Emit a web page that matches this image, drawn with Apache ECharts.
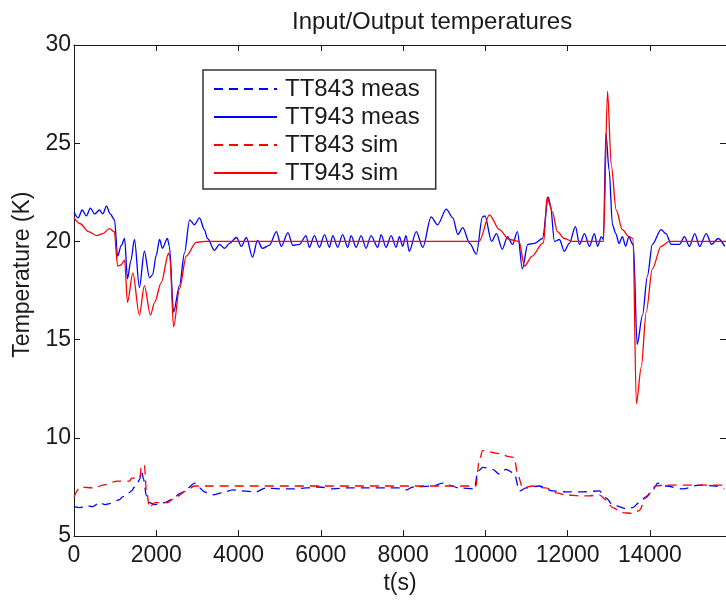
<!DOCTYPE html>
<html><head><meta charset="utf-8">
<script src="https://cdn.jsdelivr.net/npm/echarts@6/dist/echarts.min.js"></script>
<style>html,body{margin:0;padding:0;background:#fff}#c{width:726px;height:600px}</style>
</head><body><div id="c"></div><script>
// TT943 measured (solid blue)
const t943meas = [0,100,200,300,400,500,620,700,790,880,985,1060,1150,1230,1300,1380,1470,1590,1710,1835,1910,2000,2080,2150,2270,2320,2420,2565,2685,2810,2930,3050,3170,3245,3415,3535,3660,3780,3950,4070,4190,4340,4460,4580,4750,4920,5040,5200,5320,5480,5640,5720,5845,5965,6090,6210,6290,6410,6530,6655,6735,6860,6980,7100,7220,7385,7465,7585,7710,7830,7910,7990,8070,8150,8320,8480,8680,8840,9050,9210,9330,9450,9620,9780,9930,9990,10150,10270,10410,10540,10660,10780,10900,11030,11190,11390,11530,11580,11680,11800,11920,12040,12190,12290,12410,12530,12650,12730,12820,12870,12930,13010,13090,13170,13250,13330,13410,13490,13570,13600,13690,13820,13940,14060,14270,14390,14520,14720,14840,14960,15090,15210,15370,15500,15660,15820];
const v943meas = [21.5,21.2,21.6,21.3,21.7,21.4,21.6,21.4,21.8,21.4,21.1,19.25,19.8,20.15,18.1,19.0,20.1,17.65,19.5,18.15,18.3,19.3,20.1,19.65,20.15,19.75,16.4,17.75,19.4,21.1,20.85,21.2,20.6,20.15,19.55,19.85,19.65,19.9,20.2,19.75,20.2,19.2,20.05,19.65,19.8,20.5,19.75,20.45,19.8,19.85,20.3,19.7,20.3,19.7,20.35,19.7,20.3,19.7,20.35,19.7,20.3,19.7,20.3,19.65,20.3,19.7,20.35,19.7,20.3,19.7,20.25,19.75,20.3,19.5,20.5,19.7,21.25,20.85,21.65,21.2,20.35,20.7,19.9,19.35,21.25,21.3,20.0,20.4,19.6,20.25,19.85,20.5,18.6,19.85,19.9,20.15,22.25,21.9,20.0,20.1,19.5,19.9,20.75,19.85,20.4,19.75,20.4,19.75,20.25,20.1,25.5,23.6,20.85,20.4,19.9,20.25,19.75,20.25,19.9,19.8,14.75,16.25,18.25,19.85,20.6,20.4,19.85,19.85,20.25,19.75,20.4,19.75,20.4,19.85,20.15,19.75];

// TT943 simulated (solid red)
const t943sim = [0,150,350,550,700,860,980,1060,1140,1230,1300,1430,1590,1710,1860,1960,2120,2300,2330,2420,2565,2730,2970,3200,9850,10100,10340,10580,10820,10950,11140,11390,11420,11500,11630,11750,11920,12120,12870,12970,13060,13180,13330,13490,13590,13670,13790,13910,14060,14270,14470,15850];
const v943sim = [21.2,20.9,20.5,20.3,20.4,20.65,20.5,18.75,18.8,19.05,16.9,18.4,16.25,17.75,16.25,16.9,17.9,19.4,19.2,15.65,17.6,19.25,19.95,20.0,20.0,21.35,20.6,20.1,20.0,18.75,19.25,19.9,20.0,22.25,21.5,20.5,20.15,20.0,20.0,27.65,23.9,21.6,20.6,20.25,20.15,11.75,13.6,16.4,18.6,19.75,20.0,20.0];

// TT843 measured (dashed blue)
const t843meas = [0,150,300,450,620,760,860,1000,1100,1180,1270,1330,1400,1470,1550,1600,1640,1690,1760,1835,1960,2080,2200,2360,2610,2770,2930,3050,3170,3370,3610,3850,4090,4420,4660,4990,5320,5640,5970,6290,6620,7100,7590,7910,8070,8240,8720,8960,9370,9730,9820,9935,10180,10340,10500,10700,10830,10990,11310,11640,11960,12370,12770,12930,13090,13420,13580,13740,13900,14070,14190,14390,14800,15200,15600,15810];
const v843meas = [6.5,6.45,6.55,6.5,6.7,6.6,6.65,6.8,6.85,7.0,7.05,7.2,7.3,7.5,7.75,7.9,8.35,7.9,7.05,6.7,6.6,6.65,6.7,6.85,7.2,7.45,7.7,7.45,7.25,7.1,7.2,7.35,7.3,7.25,7.45,7.4,7.4,7.45,7.5,7.4,7.45,7.45,7.45,7.45,7.35,7.5,7.55,7.7,7.45,7.4,8.3,8.5,8.4,8.15,8.4,8.2,7.3,7.45,7.55,7.3,7.25,7.25,7.3,6.95,6.6,6.4,6.45,6.7,7.0,7.35,7.7,7.55,7.4,7.6,7.55,7.4];

// TT843 simulated (dashed red)
const t843sim = [0,150,500,700,1060,1350,1400,1600,1640,1710,1760,1835,1960,2260,2490,2730,2930,3200,9770,9850,9935,10340,10580,10700,10790,10910,11150,11470,11720,11960,12290,12530,12770,12930,13090,13330,13580,13740,13900,14140,14390,15850];
const v843sim = [7.0,7.5,7.45,7.6,7.8,7.8,7.95,7.95,8.6,8.6,7.35,6.45,6.7,6.7,7.0,7.3,7.55,7.55,7.55,8.85,9.35,9.2,9.05,9.0,8.1,7.45,7.55,7.45,7.2,7.1,7.05,7.05,7.1,6.85,6.45,6.2,6.15,6.3,6.95,7.55,7.6,7.6];

const seriesNames = ['TT843 meas','TT943 meas','TT843 sim','TT943 sim'];
const xTicksMax = 15850;

function pairs(t, v) { return t.map((x, i) => [x, v[i]]); }

const FONT = '"Liberation Sans", Arial, sans-serif';
const INK = '#1a1a1a';
const BLUE = '#0000ff';
const RED = '#ff0000';

const chart = echarts.init(document.getElementById('c'), null, {renderer: 'canvas'});

const mkSeries = (name, t, v, color, dashed) => ({
  name, type: 'line', data: pairs(t, v), symbol: 'none',
  smooth: 0.3, smoothMonotone: 'x',
  lineStyle: {color, width: 1.3, type: dashed ? [9, 6] : 'solid'},
  itemStyle: {color},
  animation: false
});

chart.setOption({
  animation: false,
  backgroundColor: '#fff',
  title: {
    text: 'Input/Output temperatures', left: 287, top: 5,
    textStyle: {fontFamily: FONT, fontSize: 24, fontWeight: 'normal', color: INK}
  },
  grid: {left: 74, right: 0, top: 45, bottom: 56, containLabel: false},
  legend: {
    orient: 'vertical', left: 203, top: 70,
    data: seriesNames,
    itemWidth: 63, itemHeight: 14, itemGap: 4,
    padding: [7, 16, 4, 10],
    borderColor: '#333', borderWidth: 1.5, backgroundColor: '#fff',
    itemStyle: {opacity: 0},
    textStyle: {fontFamily: FONT, fontSize: 24, lineHeight: 24, color: INK, padding: [0, 0, 0, 3]},
    selectedMode: false
  },
  xAxis: [{
    type: 'value', min: 0, max: xTicksMax, interval: 2000,
    name: 't(s)', nameLocation: 'middle', nameGap: 33,
    nameTextStyle: {fontFamily: FONT, fontSize: 23, color: INK},
    axisLine: {show: true, onZero: false, lineStyle: {color: INK, width: 1}},
    axisTick: {show: true, inside: true, length: 6, lineStyle: {color: INK}},
    axisLabel: {fontFamily: FONT, fontSize: 23, color: INK, margin: 8, showMaxLabel: false,
      formatter: v => String(v)},
    splitLine: {show: false}
  }, {
    type: 'value', position: 'top', min: 0, max: xTicksMax, interval: 2000,
    axisLine: {show: true, onZero: false, lineStyle: {color: INK, width: 1}},
    axisTick: {show: true, inside: true, length: 6, lineStyle: {color: INK}},
    axisLabel: {show: false}, splitLine: {show: false}
  }],
  yAxis: [{
    type: 'value', min: 5, max: 30, interval: 5,
    name: 'Temperature (K)', nameLocation: 'middle', nameGap: 38,
    nameTextStyle: {fontFamily: FONT, fontSize: 23, color: INK, padding: [0, 0, 0, 32]},
    axisLine: {show: true, onZero: false, lineStyle: {color: INK, width: 1}},
    axisTick: {show: true, inside: true, length: 6, lineStyle: {color: INK}},
    axisLabel: {fontFamily: FONT, fontSize: 23, color: INK, margin: 3, formatter: v => String(v)},
    splitLine: {show: false}
  }, {
    type: 'value', position: 'right', min: 5, max: 30, interval: 5,
    axisLine: {show: true, onZero: false, lineStyle: {color: INK, width: 1}},
    axisTick: {show: true, inside: true, length: 6, lineStyle: {color: INK}},
    axisLabel: {show: false}, splitLine: {show: false}
  }],
  series: [
    mkSeries(seriesNames[0], t843meas, v843meas, BLUE, true),
    mkSeries(seriesNames[1], t943meas, v943meas, BLUE, false),
    mkSeries(seriesNames[2], t843sim, v843sim, RED, true),
    mkSeries(seriesNames[3], t943sim, v943sim, RED, false)
  ]
});
</script></body></html>
